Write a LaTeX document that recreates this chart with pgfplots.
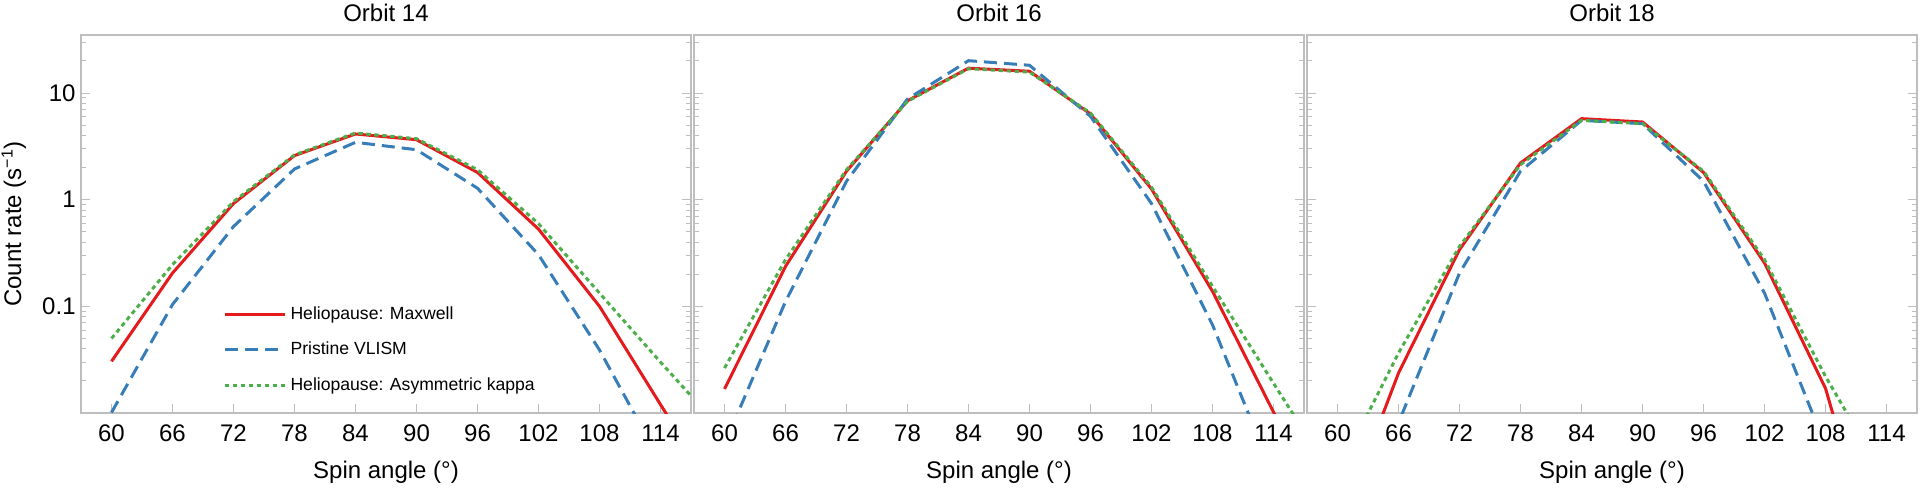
\documentclass[border=0pt]{standalone}
\usepackage{fontspec}
\setmainfont{Liberation Sans}
\usepackage{pgfplots}
\pgfplotsset{compat=1.18}

\definecolor{cred}{HTML}{E41A1C}
\definecolor{cblue}{HTML}{377EB8}
\definecolor{cgreen}{HTML}{4DAF4A}
\definecolor{tickgray}{HTML}{BEBEBE}

\tikzset{
  hm/.style={cred, line width=1.5pt},
  pv/.style={cblue, line width=1.5pt, dash pattern=on 6.5pt off 3.5pt},
  ak/.style={cgreen, line width=1.5pt, dash pattern=on 2.2pt off 1.8pt},
}
\pgfplotsset{
  /pgf/number format/assume math mode=true,
  every tick/.style={tickgray, line width=0.5pt},
  every axis title shift=0pt,
  every axis label/.append style={font=\fontsize{12}{14}\selectfont},
  every axis title/.append style={font=\fontsize{12}{14}\selectfont},
  every tick label/.append style={font=\fontsize{12}{14}\selectfont},
}

\begin{document}
\begin{tikzpicture}
\useasboundingbox (0,0) rectangle (960pt,243.5pt);

% Orbit 14
\begin{axis}[at={(40.5pt,37pt)}, title={Orbit 14},
  scale only axis, width=305pt, height=189pt,
  xmin=57, xmax=117, ymin=0.01, ymax=35, ymode=log,
  xtick={60,66,...,114}, ytick={0.1,1,10},
  minor ytick={0.02,0.03,0.04,0.05,0.06,0.07,0.08,0.09,0.2,0.3,0.4,0.5,0.6,0.7,0.8,0.9,2,3,4,5,6,7,8,9,20,30},
  xtick pos=bottom, ytick pos=both, tick align=inside,
  major tick length=4.5pt, minor tick length=2.5pt,
  axis line style={tickgray, line width=0.8pt},
  title style={at={(axis description cs:0.5,1.037)}, anchor=base},
  xlabel={Spin angle (°)},
  xlabel style={at={(axis description cs:0.5,-0.172)}, anchor=base},
  xticklabel style={anchor=base, yshift=-14pt},
  yticklabel style={inner sep=0pt, xshift=-2.5pt},
  yticklabels={0.1,1,10},
  ylabel={Count rate (s\textsuperscript{\char"2212 1})},
  ylabel style={at={(axis description cs:-0.098,0.5)}, anchor=base},
  legend cell align=left,
  legend image code/.code={\draw[#1] (0pt,0pt) -- (30pt,0pt);},
  legend style={draw=none, fill=none, font=\fontsize{8.8}{10}\selectfont,
    at={(axis description cs:0.233,0.1667)}, anchor=west,
    row sep=6pt, inner sep=0pt},
  ]
\addplot[hm] coordinates {(60,0.0305) (66,0.205) (72,0.92) (78,2.59) (84,4.13) (90,3.65) (96,1.80) (102,0.53) (108,0.100) (114,0.012) (120,0.0015)};
\addlegendentry{Heliopause: Maxwell}
\addplot[pv] coordinates {(60,0.0101) (66,0.104) (72,0.56) (78,1.94) (84,3.45) (90,2.94) (96,1.28) (102,0.305) (108,0.039) (114,0.0035)};
\addlegendentry{Pristine VLISM}
\addplot[ak] coordinates {(60,0.050) (66,0.246) (72,0.96) (78,2.63) (84,4.22) (90,3.73) (96,1.91) (102,0.596) (108,0.133) (114,0.030) (120,0.007)};
\addlegendentry{Heliopause: Asymmetric kappa}
\end{axis}

% Orbit 16
\begin{axis}[at={(347pt,37pt)}, title={Orbit 16},
  scale only axis, width=305pt, height=189pt,
  xmin=57, xmax=117, ymin=0.01, ymax=35, ymode=log,
  xtick={60,66,...,114}, ytick={0.1,1,10},
  minor ytick={0.02,0.03,0.04,0.05,0.06,0.07,0.08,0.09,0.2,0.3,0.4,0.5,0.6,0.7,0.8,0.9,2,3,4,5,6,7,8,9,20,30},
  xtick pos=bottom, ytick pos=both, tick align=inside,
  major tick length=4.5pt, minor tick length=2.5pt,
  axis line style={tickgray, line width=0.8pt},
  title style={at={(axis description cs:0.5,1.037)}, anchor=base},
  xlabel={Spin angle (°)},
  xlabel style={at={(axis description cs:0.5,-0.172)}, anchor=base},
  xticklabel style={anchor=base, yshift=-14pt},
  yticklabels={},
  ]
\addplot[hm] coordinates {(60,0.0168) (66,0.237) (72,1.85) (78,8.47) (84,17.1) (90,16.0) (96,6.36) (102,1.26) (108,0.138) (114,0.0102) (120,0.00076)};
\addplot[pv] coordinates {(60,0.0051) (66,0.111) (72,1.49) (78,8.79) (84,20.1) (90,18.2) (96,6.04) (102,0.92) (108,0.067) (114,0.0026)};
\addplot[ak] coordinates {(60,0.0264) (66,0.274) (72,1.91) (78,8.36) (84,16.9) (90,15.7) (96,6.49) (102,1.31) (108,0.154) (114,0.019) (120,0.0024)};
\end{axis}

% Orbit 18
\begin{axis}[at={(653.5pt,37pt)}, title={Orbit 18},
  scale only axis, width=305pt, height=189pt,
  xmin=57, xmax=117, ymin=0.01, ymax=35, ymode=log,
  xtick={60,66,...,114}, ytick={0.1,1,10},
  minor ytick={0.02,0.03,0.04,0.05,0.06,0.07,0.08,0.09,0.2,0.3,0.4,0.5,0.6,0.7,0.8,0.9,2,3,4,5,6,7,8,9,20,30},
  xtick pos=bottom, ytick pos=both, tick align=inside,
  major tick length=4.5pt, minor tick length=2.5pt,
  axis line style={tickgray, line width=0.8pt},
  title style={at={(axis description cs:0.5,1.037)}, anchor=base},
  xlabel={Spin angle (°)},
  xlabel style={at={(axis description cs:0.5,-0.172)}, anchor=base},
  xticklabel style={anchor=base, yshift=-14pt},
  yticklabels={},
  ]
\addplot[hm] coordinates {(60,0.00075) (66,0.0237) (72,0.34) (78,2.21) (84,5.75) (90,5.35) (96,1.80) (102,0.255) (108,0.017) (114,0.00018)};
\addplot[pv] coordinates {(60,0.0004) (66,0.0081) (72,0.205) (78,1.85) (84,5.54) (90,5.16) (96,1.49) (102,0.133) (108,0.0049) (114,0.0002)};
\addplot[ak] coordinates {(60,0.0027) (66,0.0365) (72,0.365) (78,2.13) (84,5.54) (90,5.16) (96,1.85) (102,0.274) (108,0.022) (114,0.0023)};
\end{axis}
\end{tikzpicture}
\end{document}
